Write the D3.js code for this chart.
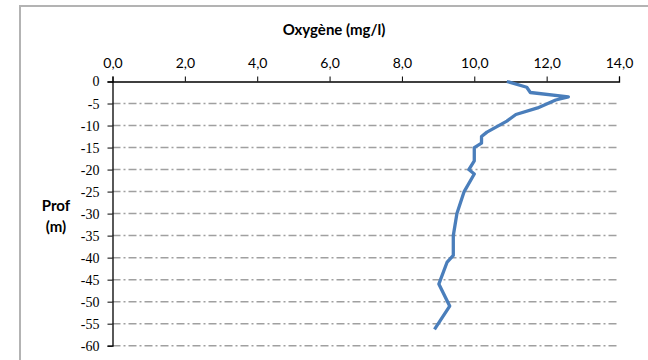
<!DOCTYPE html>
<html><head><meta charset="utf-8">
<script src="https://cdn.jsdelivr.net/npm/d3@7"></script>
<style>body{margin:0;background:#fff}svg{display:block}</style>
</head><body>
<svg id="c" width="648" height="360"></svg>
<script>
const depths = [0, -1.3, -2.5, -3.5, -4.2, -6, -7.5, -9, -11.5, -12.5, -14, -15, -18, -20, -21, -25, -30, -35, -39.5, -41, -46, -51, -56.3];
const oxygen = [10.9, 11.45, 11.55, 12.6, 12.25, 11.75, 11.15, 10.9, 10.35, 10.2, 10.2, 10.0, 10.0, 9.85, 10.0, 9.72, 9.52, 9.42, 9.42, 9.25, 9.02, 9.32, 8.9];
const xTicks = [0, 2, 4, 6, 8, 10, 12, 14];
const yTicks = [0, -5, -10, -15, -20, -25, -30, -35, -40, -45, -50, -55, -60];
const title = "Oxygène (mg/l)";
const yTitle = ["Prof", "(m)"];

const svg = d3.select("#c");
const L = 112.5, R = 619, T = 81.5, B = 345.7;
const x = d3.scaleLinear().domain([0, 14]).range([L, R]);
const y = d3.scaleLinear().domain([0, -60]).range([T, B]);
const fmt = d => d.toFixed(1).replace(".", ",");
const sans = "Lato, 'Open Sans', sans-serif";

// outer border
svg.append("rect").attr("x", 20).attr("y", 6).attr("width", 700).attr("height", 400)
  .attr("fill", "none").attr("stroke", "#b3b3b3").attr("stroke-width", 2);

// grid
svg.append("g").selectAll("line").data(yTicks.filter(d => d !== 0)).join("line")
  .attr("x1", L).attr("x2", R).attr("y1", d => y(d)).attr("y2", d => y(d))
  .attr("stroke", "#a0a0a0").attr("stroke-width", 1.5).attr("stroke-dasharray", "8,3,2,3");

// top axis
const gx = svg.append("g").attr("transform", `translate(0,${T})`)
  .call(d3.axisTop(x).tickValues(xTicks).tickFormat(fmt).tickSize(5).tickPadding(9));
gx.selectAll("text").attr("font-family", sans).attr("font-size", 14).attr("fill", "#000");
gx.select(".domain").attr("stroke", "#000").attr("stroke-width", 1.3);
gx.selectAll(".tick line").attr("stroke", "#000");

// left axis
const gy = svg.append("g").attr("transform", `translate(${L},0)`)
  .call(d3.axisLeft(y).tickValues(yTicks).tickFormat(d => d === 0 ? "0" : "-" + Math.abs(d)).tickSize(5).tickPadding(8));
gy.selectAll("text").attr("font-family", "Liberation Serif, serif").attr("font-size", 14).attr("fill", "#000");
gy.select(".domain").attr("stroke", "#000").attr("stroke-width", 1.3);
gy.selectAll(".tick line").attr("stroke", "#000");

// title
svg.append("text").attr("x", 334).attr("y", 35).attr("text-anchor", "middle")
  .attr("font-family", sans).attr("font-weight", "bold").attr("font-size", 15).text(title);
svg.append("g").selectAll("text").data(yTitle).join("text")
  .attr("x", 56).attr("y", (d, i) => 211 + i * 21).attr("text-anchor", "middle")
  .attr("font-family", sans).attr("font-weight", "bold").attr("font-size", 15).text(d => d);

// line
const pts = depths.map((d, i) => [oxygen[i], d]);
svg.append("path").datum(pts)
  .attr("d", d3.line().x(d => x(d[0])).y(d => y(d[1])))
  .attr("fill", "none").attr("stroke", "#4a7ebb").attr("stroke-width", 3.3).attr("stroke-linejoin", "round");
</script>
</body></html>
